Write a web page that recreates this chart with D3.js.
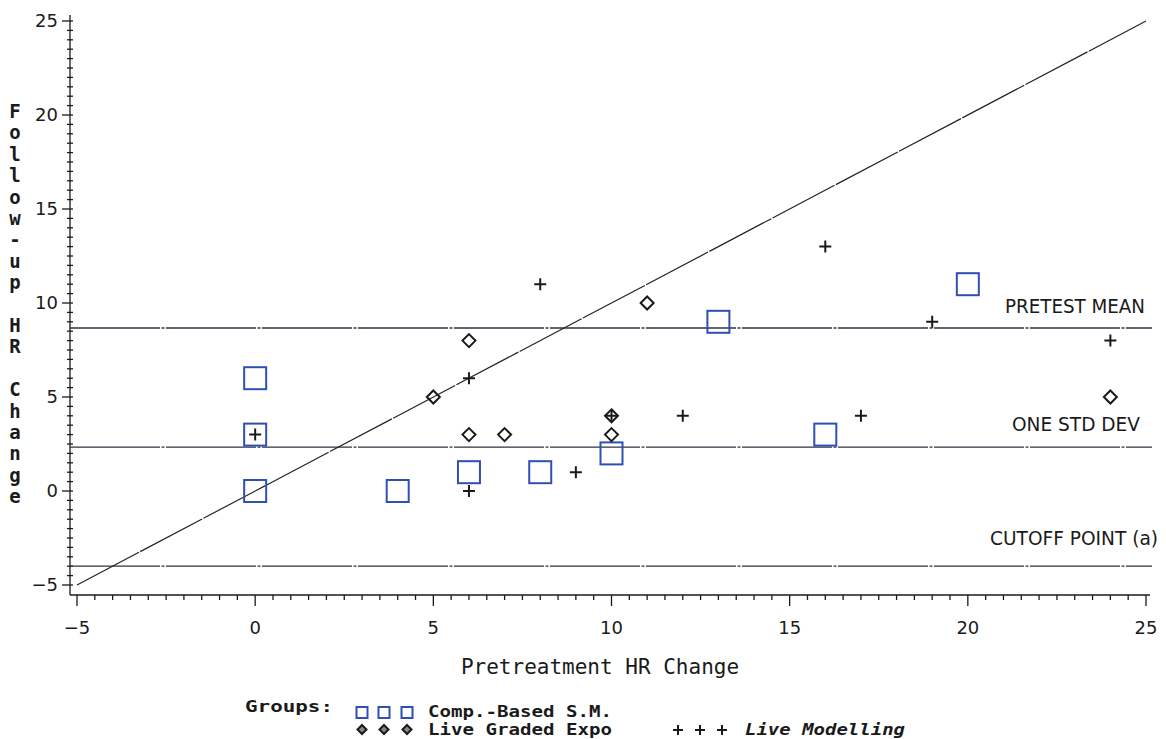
<!DOCTYPE html>
<html>
<head>
<meta charset="utf-8">
<script src="https://cdn.jsdelivr.net/npm/d3@7"></script>
<style>
  body { margin: 0; background: #fff; }
  svg { display: block; }
</style>
</head>
<body>
<div id="chart"></div>
<script>
// --- data ---
const compX = [0, 0, 0, 4, 6, 8, 10, 13, 16, 20];
const compY = [6, 3, 0, 0, 1, 1, 2, 9, 3, 11];
const gradedX = [5, 6, 6, 7, 10, 10, 11, 24];
const gradedY = [5, 8, 3, 3, 3, 4, 10, 5];
const modelX = [0, 6, 6, 8, 9, 10, 12, 16, 17, 19, 24];
const modelY = [3, 6, 0, 11, 1, 4, 4, 13, 4, 9, 8];
const refNames = ['PRETEST MEAN', 'ONE STD DEV', 'CUTOFF POINT (a)'];
const refValues = [8.67, 2.33, -4];
const xTicks = [-5, 0, 5, 10, 15, 20, 25];
const yTicks = [-5, 0, 5, 10, 15, 20, 25];
const identity = [-5, 25];

const width = 1166, height = 739;
const svg = d3.select('#chart').append('svg')
  .attr('width', width).attr('height', height);
svg.append('rect').attr('width', width).attr('height', height).attr('fill', '#fff');

const x = d3.scaleLinear().domain([-5, 25]).range([77, 1146]);
const y = d3.scaleLinear().domain([-5, 25]).range([585, 21]);
const axisX0 = 70, axisY0 = 595;
const ink = '#1a1a1a';
const blue = '#2f4fb4';

// --- axes ---
const g = svg.append('g');
// x axis line + ticks
g.append('line').attr('x1', axisX0).attr('x2', 1150).attr('y1', axisY0).attr('y2', axisY0)
  .attr('stroke', ink).attr('stroke-width', 1.3);
const xMinor = d3.range(-5, 25.01, 0.5);
g.selectAll('.xminor').data(xMinor).join('line')
  .attr('x1', d => x(d)).attr('x2', d => x(d))
  .attr('y1', axisY0).attr('y2', d => Number.isInteger(d / 5) ? axisY0 + 11 : axisY0 + 5)
  .attr('stroke', ink).attr('stroke-width', 1.3);
g.selectAll('.xlab').data(xTicks).join('text')
  .attr('x', d => x(d)).attr('y', 634)
  .attr('text-anchor', 'middle')
  .attr('font-family', 'DejaVu Sans, sans-serif').attr('font-size', 18)
  .attr('fill', ink)
  .text(d => d < 0 ? '\u2212' + Math.abs(d) : d);

// y axis line + ticks
g.append('line').attr('x1', axisX0).attr('x2', axisX0).attr('y1', 15).attr('y2', axisY0)
  .attr('stroke', ink).attr('stroke-width', 1.3);
const yMinor = d3.range(-5, 25.01, 0.5);
g.selectAll('.yminor').data(yMinor).join('line')
  .attr('y1', d => y(d)).attr('y2', d => y(d))
  .attr('x1', d => Number.isInteger(d / 5) ? axisX0 - 8 : axisX0 - 3).attr('x2', axisX0 + 3)
  .attr('stroke', ink).attr('stroke-width', 1.3);
g.selectAll('.ylab').data(yTicks).join('text')
  .attr('x', 58).attr('y', d => y(d) + 6)
  .attr('text-anchor', 'end')
  .attr('font-family', 'DejaVu Sans, sans-serif').attr('font-size', 18)
  .attr('fill', ink)
  .text(d => d < 0 ? '\u2212' + Math.abs(d) : d);

// axis titles
svg.append('text').attr('x', 600).attr('y', 674).attr('text-anchor', 'middle')
  .attr('font-family', 'DejaVu Sans Mono, monospace').attr('font-size', 21)
  .attr('fill', ink).text('Pretreatment HR Change');
const yTitle = 'Follow-up HR Change'.split('');
svg.selectAll('.ytitle').data(yTitle).join('text')
  .attr('x', 15).attr('y', (d, i) => 118 + i * 21.4)
  .attr('text-anchor', 'middle')
  .attr('font-family', 'DejaVu Sans Mono, monospace').attr('font-size', 19)
  .attr('font-weight', 'bold')
  .attr('fill', ink).text(d => d);

// --- reference lines ---
svg.selectAll('.ref').data(refValues).join('line')
  .attr('x1', axisX0).attr('x2', 1152)
  .attr('y1', d => y(d)).attr('y2', d => y(d))
  .attr('stroke', '#2c3340').attr('stroke-width', 1.3)
  .attr('stroke-dasharray', '90,1.5,3,1.5');
svg.selectAll('.reflab').data(refNames).join('text')
  .attr('x', (d, i) => [1145, 1140, 1158][i])
  .attr('y', (d, i) => y(refValues[i]) - [15, 16, 21][i])
  .attr('text-anchor', 'end')
  .attr('font-family', 'DejaVu Sans Condensed, DejaVu Sans, sans-serif').attr('font-size', 19)
  .attr('textLength', (d, i) => [140, 128, 168][i])
  .attr('lengthAdjust', 'spacingAndGlyphs')
  .attr('fill', ink).text(d => d);

// identity diagonal
svg.append('line')
  .attr('x1', x(identity[0])).attr('y1', y(identity[0]))
  .attr('x2', x(identity[1])).attr('y2', y(identity[1]))
  .attr('stroke', '#222').attr('stroke-width', 1.2)
  .attr('stroke-dasharray', '70,1.5');

// --- markers ---
const sq = 22;
svg.selectAll('.comp').data(compX).join('rect')
  .attr('x', (d, i) => x(d) - sq / 2).attr('y', (d, i) => y(compY[i]) - sq / 2)
  .attr('width', sq).attr('height', sq)
  .attr('fill', 'none').attr('stroke', blue).attr('stroke-width', 2);

const dia = 6.5;
svg.selectAll('.graded').data(gradedX).join('path')
  .attr('d', (d, i) => {
    const cx = x(d), cy = y(gradedY[i]);
    return `M${cx},${cy - dia}L${cx + dia},${cy}L${cx},${cy + dia}L${cx - dia},${cy}Z`;
  })
  .attr('fill', 'none').attr('stroke', ink).attr('stroke-width', 2);

const pl = 6;
svg.selectAll('.model').data(modelX).join('path')
  .attr('d', (d, i) => {
    const cx = x(d), cy = y(modelY[i]);
    return `M${cx - pl},${cy}H${cx + pl}M${cx},${cy - pl}V${cy + pl}`;
  })
  .attr('fill', 'none').attr('stroke', ink).attr('stroke-width', 2);

// --- legend ---
const leg = svg.append('g').attr('font-family', 'DejaVu Sans Mono, monospace')
  .attr('font-weight', 'bold').attr('font-size', 15).attr('fill', ink);
leg.append('text').attr('x', 245).attr('y', 712)
  .attr('textLength', 88).attr('lengthAdjust', 'spacingAndGlyphs').text('Groups:');
const legSymX = [362, 384, 407];
leg.selectAll('.lsq').data(legSymX).join('rect')
  .attr('x', d => d - 5.5).attr('y', 707).attr('width', 11).attr('height', 11)
  .attr('fill', 'none').attr('stroke', blue).attr('stroke-width', 2);
leg.append('text').attr('x', 428).attr('y', 717)
  .attr('textLength', 184).attr('lengthAdjust', 'spacingAndGlyphs').text('Comp.-Based S.M.');
leg.selectAll('.ldia').data(legSymX).join('path')
  .attr('d', d => `M${d},${725}L${d + 4.5},${729.5}L${d},${734}L${d - 4.5},${729.5}Z`)
  .attr('fill', '#888').attr('stroke', ink).attr('stroke-width', 2);
leg.append('text').attr('x', 428).attr('y', 735)
  .attr('textLength', 184).attr('lengthAdjust', 'spacingAndGlyphs').text('Live Graded Expo');
const legPlusX = [678, 700, 722];
leg.selectAll('.lplus').data(legPlusX).join('path')
  .attr('d', d => `M${d - 5},${730}H${d + 5}M${d},${725}V${735}`)
  .attr('stroke', ink).attr('stroke-width', 2);
leg.append('text').attr('x', 745).attr('y', 735).attr('font-style', 'italic')
  .attr('textLength', 160).attr('lengthAdjust', 'spacingAndGlyphs').text('Live Modelling');
</script>
</body>
</html>
